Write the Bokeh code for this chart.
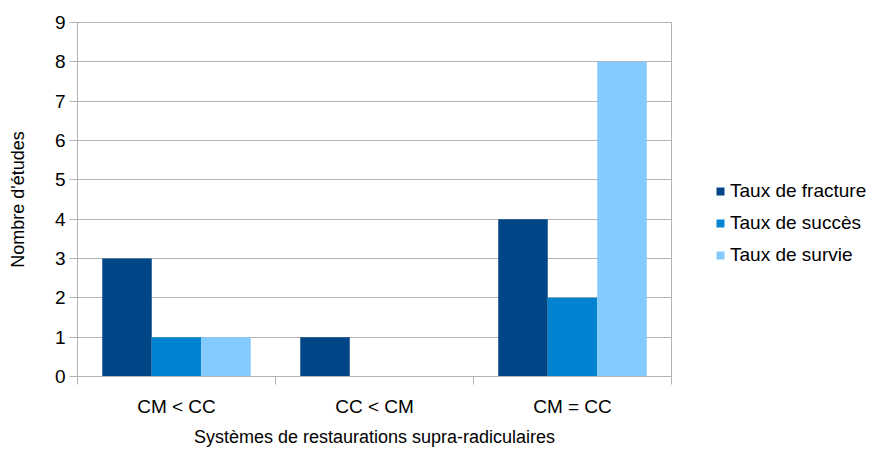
from bokeh.plotting import figure
from bokeh.models import Range1d, FixedTicker, Legend, LegendItem, ColumnDataSource
from bokeh.embed import file_html
from bokeh.resources import INLINE

categories = ["CM < CC", "CC < CM", "CM = CC"]
series_names = ["Taux de fracture", "Taux de succès", "Taux de survie"]
fracture = [3, 1, 4]
succes = [1, 0, 2]
survie = [1, 0, 8]
colors = ["#004586", "#0084d1", "#83caff"]
y_ticks = [0, 1, 2, 3, 4, 5, 6, 7, 8, 9]

FONT = "Liberation Sans"
GRAY = "#b3b3b3"

p = figure(frame_width=594, frame_height=354, output_backend="svg", toolbar_location=None,
           x_range=Range1d(0, len(categories)), y_range=Range1d(0, 9),
           min_border_left=77, min_border_top=22, min_border_right=0,
           min_border_bottom=0)

offsets = [-0.25, 0.0, 0.25]
renderers = []
for name, vals, off, col in zip(series_names, [fracture, succes, survie], offsets, colors):
    src = ColumnDataSource(dict(x=[i + 0.5 + off for i in range(len(categories))], top=vals))
    r = p.vbar(x="x", top="top", width=0.25, source=src, fill_color=col, line_color=None)
    renderers.append(r)

# axes
p.xaxis.ticker = FixedTicker(ticks=[i + 0.5 for i in range(len(categories))],
                             minor_ticks=list(range(len(categories) + 1)))
p.xaxis.major_label_overrides = {i + 0.5: c for i, c in enumerate(categories)}
p.xaxis.major_tick_line_color = None
p.xaxis.minor_tick_line_color = GRAY
p.xaxis.minor_tick_out = 8
p.xaxis.minor_tick_in = 0
p.xaxis.major_tick_out = 8
p.xaxis.major_tick_in = 0
p.xaxis.axis_label = "Systèmes de restaurations supra-radiculaires"
p.xaxis.major_label_standoff = 11
p.xaxis.axis_label_standoff = 7

p.yaxis.ticker = FixedTicker(ticks=y_ticks)
p.yaxis.minor_tick_line_color = None
p.yaxis.major_tick_line_color = GRAY
p.yaxis.major_tick_out = 8
p.yaxis.major_tick_in = 0
p.yaxis.major_label_standoff = 4
p.yaxis.axis_label = "Nombre d'études"
p.yaxis.axis_label_standoff = 24

for ax in [p.xaxis[0], p.yaxis[0]]:
    ax.axis_line_color = GRAY
    ax.major_label_text_font = FONT
    ax.major_label_text_font_size = "19px"
    ax.major_label_text_color = "black"
    ax.axis_label_text_font = FONT
    ax.axis_label_text_font_size = "18px"
    ax.axis_label_text_font_style = "normal"
    ax.axis_label_text_color = "black"

p.xgrid.grid_line_color = None
p.ygrid.grid_line_color = GRAY
p.ygrid.ticker = FixedTicker(ticks=y_ticks)
p.outline_line_color = GRAY
p.background_fill_color = "white"
p.border_fill_color = "white"

legend = Legend(items=[LegendItem(label=n, renderers=[r]) for n, r in zip(series_names, renderers)],
                location=(44, 110), orientation="vertical",
                glyph_width=10, glyph_height=10, label_standoff=5, spacing=10,
                padding=0, margin=0, border_line_color=None, background_fill_alpha=0,
                label_text_font=FONT, label_text_font_size="19px", label_height=21,
                label_text_color="black")
p.add_layout(legend, "right")

open("out.html", "w").write(file_html(p, INLINE))
